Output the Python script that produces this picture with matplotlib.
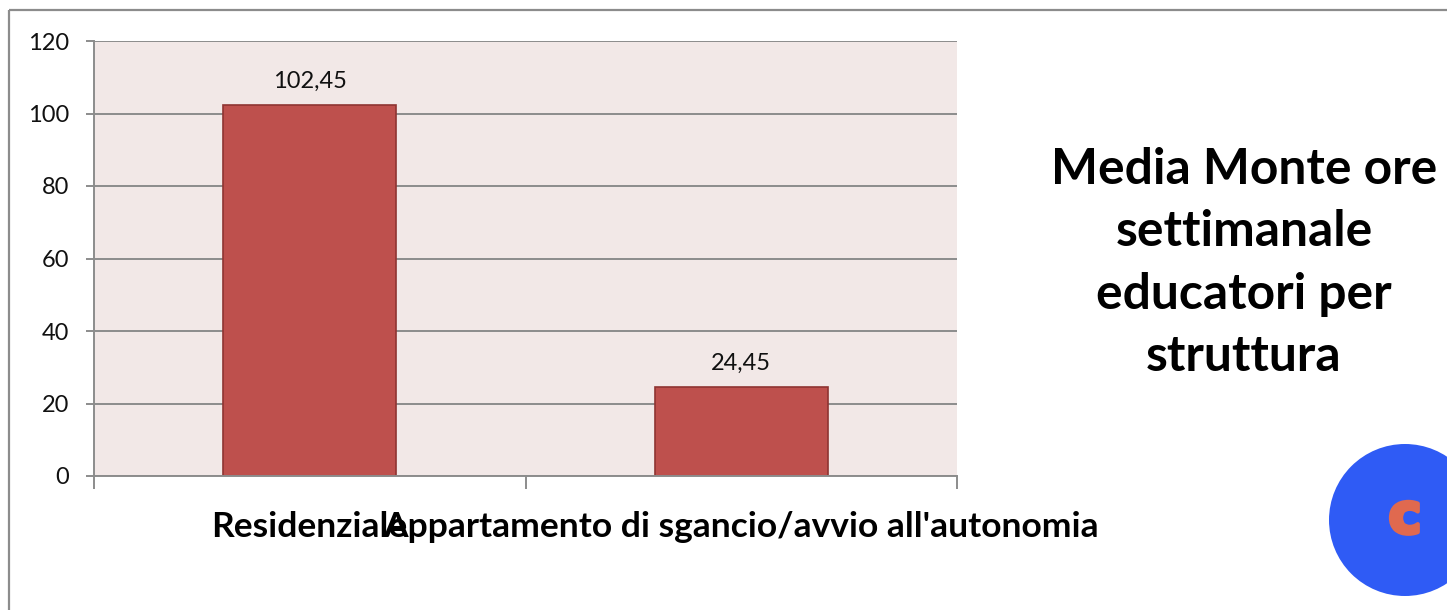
import matplotlib
matplotlib.use('Agg')
import matplotlib.pyplot as plt
from matplotlib.patches import Circle
import matplotlib.patheffects as pe

W, H = 1447, 610

categories = ['Residenziale', "Appartamento di sgancio/avvio all'autonomia"]
values = [102.45, 24.45]
value_labels = ['102,45', '24,45']
y_ticks = [0, 20, 40, 60, 80, 100, 120]
title_lines = 'Media Monte ore\nsettimanale\neducatori per\nstruttura'

plt.rcParams['font.family'] = ['Lato', 'DejaVu Sans']

fig = plt.figure(figsize=(W / 100, H / 100), dpi=100)

# overlay in pixel coords for the frame and the logo
bg = fig.add_axes([0, 0, 1, 1])
bg.set_xlim(0, W)
bg.set_ylim(H, 0)
bg.axis('off')
bg.plot([9, 9], [610, 10], color='#8c8c8c', lw=1.6, solid_capstyle='butt')
bg.plot([9, 1447], [10, 10], color='#8c8c8c', lw=1.6, solid_capstyle='butt')
bg.add_patch(Circle((1405, 520), 76, color='#2f5bf5', lw=0))
bg.text(1405, 518, 'c', fontsize=40, fontweight='bold', family='DejaVu Sans', color='#e0694f',
        ha='center', va='center',
        path_effects=[pe.withStroke(linewidth=3, foreground='#e0694f')])

left, right, top, bottom = 94, 957, 41, 476
ax = fig.add_axes([left / W, 1 - bottom / H, (right - left) / W, (bottom - top) / H])
ax.set_facecolor('#f2e8e7')
ax.set_xlim(-0.5, 1.5)
ax.set_ylim(0, 120)
ax.yaxis.grid(True, color='#8c8c8c', lw=1.4)
ax.set_axisbelow(True)

x = range(len(categories))
ax.bar(x, values, width=0.4, color='#be504d', edgecolor='#8f3432', lw=1.2)
for i, v in enumerate(values):
    ax.text(i, v + 6.5, value_labels[i], ha='center', va='center', fontsize=17, color='#111111')

for s in ['top', 'right']:
    ax.spines[s].set_visible(False)
for s in ['left', 'bottom']:
    ax.spines[s].set_color('#8c8c8c')
    ax.spines[s].set_linewidth(1.4)

ax.set_yticks(y_ticks)
ax.set_xticks([-0.5, 0.5, 1.5])
ax.set_xticklabels([])
ax.tick_params(axis='y', length=5.8, width=1.4, color='#8c8c8c', labelsize=17, pad=12, labelcolor='#111111')
ax.tick_params(axis='x', length=9, width=1.4, color='#8c8c8c')

for i, c in enumerate(categories):
    ax.annotate(c, xy=(i, 0), xytext=(0, -51), textcoords='offset pixels',
                ha='center', va='center', fontsize=25.5, fontweight='bold', color='black', annotation_clip=False)

bg.text(1244, 263, title_lines, ha='center', va='center', fontsize=35.8, fontweight='bold',
        color='black', linespacing=1.47)

fig.savefig('out.png', dpi=100)
